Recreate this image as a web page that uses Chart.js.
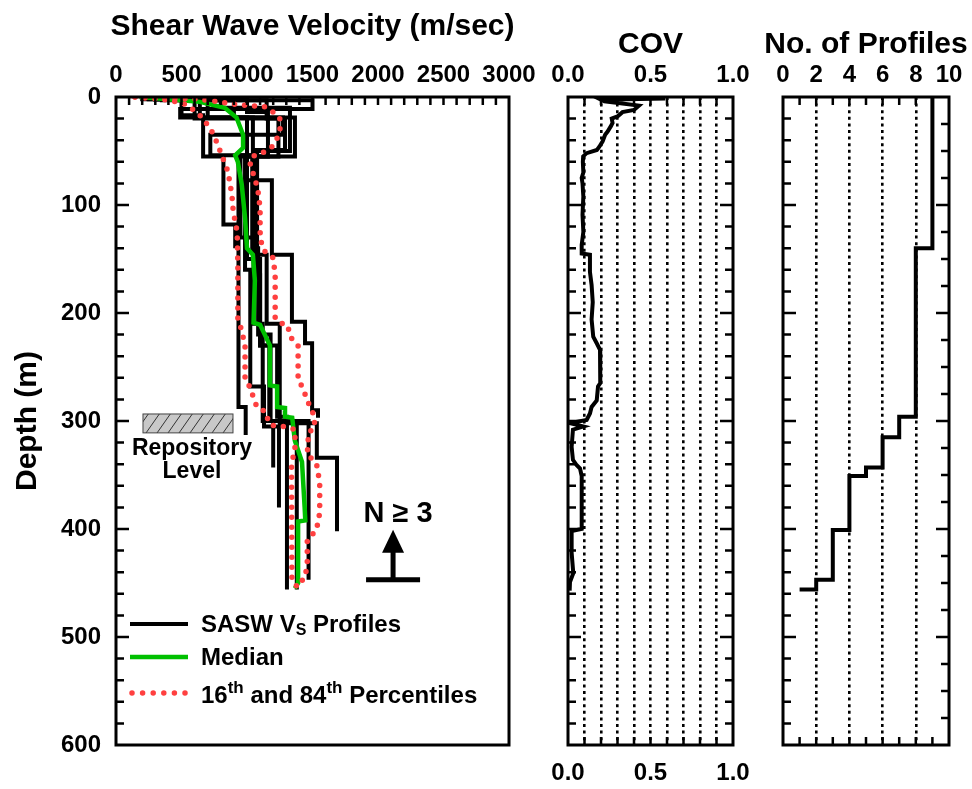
<!DOCTYPE html>
<html>
<head>
<meta charset="utf-8">
<title>Shear Wave Velocity Profiles</title>
<script src="https://cdn.jsdelivr.net/npm/chart.js@4.4.1/dist/chart.umd.min.js"></script>
<style>
  html, body { margin: 0; padding: 0; background: #fff; }
  #wrap { position: relative; width: 972px; height: 789px; }
  #wrap canvas { position: absolute; left: 0; top: 0; }
</style>
</head>
<body>
<div id="wrap">
  <canvas id="vsChart" width="972" height="789"></canvas>
  <canvas id="covChart" width="972" height="789"></canvas>
  <canvas id="countChart" width="972" height="789"></canvas>
</div>
<script>
// SASW profiles: layer boundaries (m) and layer velocity (m/sec)
const prof1Depth = [0, 2, 17, 55, 118, 140];
const prof1Vs    = [250, 500, 665, 820, 910];
const prof2Depth = [0, 3, 11, 19, 55, 77, 146, 208, 228, 290, 297];
const prof2Vs    = [450, 1500, 490, 1366, 1000, 1190, 1343, 1443, 1497, 1542];
const prof3Depth = [0, 2, 19, 54, 287, 313];
const prof3Vs    = [200, 700, 1045, 935, 990];
const prof4Depth = [0, 2, 10, 50, 165, 230, 300, 343];
const prof4Vs    = [300, 800, 1328, 1077, 1100, 1170, 1200];
const prof5Depth = [0, 3, 19, 35, 54, 160, 268, 305, 380];
const prof5Vs    = [350, 900, 1275, 720, 985, 1025, 1130, 1244];
const prof6Depth = [0, 2, 20, 49, 146, 210, 302, 334, 402];
const prof6Vs    = [400, 600, 1290, 1060, 1150, 1250, 1533, 1687];
const prof7Depth = [0, 2, 19, 54, 140, 220, 300, 447];
const prof7Vs    = [300, 640, 1000, 1040, 1085, 1180, 1470];
const prof8Depth = [0, 3, 20, 55, 150, 230, 296, 456];
const prof8Vs    = [500, 1150, 1240, 1000, 1100, 1230, 1305];
const prof9Depth = [0, 2, 14, 55, 130, 210, 300, 456];
const prof9Vs    = [300, 1000, 1160, 950, 1050, 1120, 1380];

// median and 16th / 84th percentile curves
const medianVs    = [180, 400, 640, 830, 920, 970, 970, 910, 930, 960, 985, 1000, 1045, 1060, 1050, 1100, 1175, 1175, 1230, 1230, 1290, 1290, 1345, 1365, 1390, 1420, 1440, 1445, 1390, 1390, 1365];
const medianDepth = [0, 2, 4.5, 10, 19, 35, 47, 54, 60, 81, 112, 140, 146, 170, 209, 211, 230, 267, 268, 287, 288, 296, 297, 318, 327, 338, 380, 392, 393, 450, 455];
const p16Vs    = [145, 410, 540, 640, 720, 770, 810, 855, 885, 895, 925, 930, 930, 960, 985, 985, 1020, 1075, 1150, 1160, 1190, 1275, 1366, 1366, 1340, 1343, 1380];
const p16Depth = [0, 3, 7, 17, 29, 42, 55, 69, 91, 106, 125, 156, 206, 216, 231, 262, 268, 287, 292, 300, 304, 305, 308, 327, 339, 447, 453];
const p84Vs    = [145, 400, 640, 925, 1140, 1200, 1250, 1252, 1230, 1190, 1115, 1040, 1023, 1060, 1085, 1100, 1100, 1115, 1160, 1200, 1215, 1215, 1250, 1310, 1330, 1390, 1390, 1425, 1460, 1505, 1520, 1470, 1460, 1530, 1555, 1555, 1530, 1460, 1460, 1445, 1405];
const p84Depth = [0, 1, 2, 7, 9, 14, 19, 30, 38, 46, 52, 55, 63, 75, 88, 103, 125, 140, 146, 149, 165, 205, 209, 211, 222, 230, 262, 269, 281, 293, 305, 311, 331, 339, 357, 385, 401, 410, 431, 444, 450];

// coefficient of variation with depth
const covValue = [0.59, 0.20, 0.22, 0.43, 0.40, 0.33, 0.30, 0.265, 0.27, 0.26, 0.24, 0.225, 0.21, 0.19, 0.175, 0.113, 0.092, 0.09, 0.093, 0.083, 0.088, 0.093, 0.088, 0.093, 0.083, 0.083, 0.133, 0.133, 0.143, 0.15, 0.143, 0.153, 0.174, 0.194, 0.197, 0.194, 0.182, 0.174, 0.143, 0.133, 0.113, 0.012, 0.093, 0.03, 0.022, 0.03, 0.053, 0.073, 0.083, 0.083, 0.022, 0.022, 0.032, 0.012, 0.01];
const covDepth = [1.5, 2.5, 4, 8, 12, 14, 18, 20, 24, 27, 32, 35, 41, 46, 49, 52, 55, 60, 70, 75, 80, 92, 109, 125, 137, 145, 146, 162, 174, 190, 206, 222, 228, 234, 246, 265, 268, 281, 287, 293, 299, 302, 305, 308, 324, 336, 341, 344, 351, 400, 402, 422, 441, 449, 457];

// number of profiles reaching each depth
const countDepth = [0, 140, 296, 315, 343, 351, 401, 447, 456];
const countValue = [9, 8, 7, 6, 5, 4, 3, 2, 1];

// axis tick labels
const vsTicks = [0, 500, 1000, 1500, 2000, 2500, 3000];
const depthTicks = [0, 100, 200, 300, 400, 500, 600];

const FONT = "'Liberation Sans', Arial, Helvetica, sans-serif";
Chart.defaults.font.family = FONT;
Chart.defaults.font.weight = 'bold';
Chart.defaults.color = '#000';

function stepLine(depths, values) {
    const pts = [];
    for (let i = 0; i < values.length; i++) {
        pts.push({ x: values[i], y: depths[i] });
        pts.push({ x: values[i], y: depths[i + 1] });
    }
    return pts;
}

function countLine(depths, values) {
    const pts = [];
    for (let i = 0; i < values.length - 1; i++) {
        pts.push({ x: values[i], y: depths[i] });
        pts.push({ x: values[i], y: depths[i + 1] });
    }
    pts.push({ x: values[values.length - 1], y: depths[depths.length - 1] });
    return pts;
}

function curve(values, depths) {
    return values.map((v, i) => ({ x: v, y: depths[i] }));
}

function fixHeight(h) { return scale => { scale.height = h; }; }
function fixWidth(w) { return scale => { scale.width = w; }; }

// panel heading drawn centred over the plot area (axis titles get squeezed to the axis width)
function drawHeading(chart, text, cy) {
    const { ctx, chartArea: a } = chart;
    ctx.save();
    ctx.fillStyle = '#000';
    ctx.font = `bold 30px ${FONT}`;
    ctx.textAlign = 'center';
    ctx.textBaseline = 'middle';
    ctx.fillText(text, (a.left + a.right) / 2, cy);
    ctx.restore();
}

// frame plus inward tick marks
function drawFrame(chart, spec) {
    const { ctx, chartArea: a } = chart;
    const xs = chart.scales.x, ys = chart.scales.y;
    ctx.save();
    ctx.strokeStyle = '#000';
    ctx.lineWidth = 2.5;
    ctx.beginPath();
    const sideTicks = (step, side) => {
        for (let d = step; d < 600; d += step) {
            const py = ys.getPixelForValue(d);
            const len = d % 100 === 0 ? 13 : 8;
            if (side === 'left') { ctx.moveTo(a.left, py); ctx.lineTo(a.left + len, py); }
            else { ctx.moveTo(a.right, py); ctx.lineTo(a.right - len, py); }
        }
    };
    const edgeTicks = (step, edge) => {
        for (let i = 1; i * step < xs.max - 1e-9; i++) {
            const px = xs.getPixelForValue(i * step);
            if (edge === 'top') { ctx.moveTo(px, a.top); ctx.lineTo(px, a.top + 8); }
            else { ctx.moveTo(px, a.bottom); ctx.lineTo(px, a.bottom - 8); }
        }
    };
    if (spec.left) sideTicks(spec.left, 'left');
    if (spec.right) sideTicks(spec.right, 'right');
    if (spec.top) edgeTicks(spec.top, 'top');
    if (spec.bottom) edgeTicks(spec.bottom, 'bottom');
    ctx.stroke();
    ctx.lineWidth = 3;
    ctx.strokeRect(a.left, a.top, a.width, a.height);
    ctx.restore();
}

function drawRuns(ctx, x, baseline, runs) {
    runs.forEach(r => {
        ctx.font = `bold ${r.size}px ${FONT}`;
        ctx.fillText(r.text, x, baseline + (r.shift || 0));
        x += ctx.measureText(r.text).width;
    });
}

const velocityExtras = {
    id: 'velocityExtras',
    afterDatasetsDraw(chart) {
        const { ctx, chartArea: a } = chart;
        const xs = chart.scales.x, ys = chart.scales.y;
        drawFrame(chart, { left: 20, top: 100 });
        drawHeading(chart, 'Shear Wave Velocity (m/sec)', 27);

        ctx.save();
        // repository level block
        const rx0 = xs.getPixelForValue(206), rx1 = xs.getPixelForValue(893);
        const ry0 = ys.getPixelForValue(293.5), ry1 = ys.getPixelForValue(311);
        ctx.fillStyle = '#c8c8c8';
        ctx.fillRect(rx0, ry0, rx1 - rx0, ry1 - ry0);
        ctx.save();
        ctx.beginPath();
        ctx.rect(rx0, ry0, rx1 - rx0, ry1 - ry0);
        ctx.clip();
        ctx.strokeStyle = '#333';
        ctx.lineWidth = 1;
        ctx.beginPath();
        const h = ry1 - ry0;
        for (let x = rx0 - h; x < rx1 + h; x += 11) {
            ctx.moveTo(x, ry1);
            ctx.lineTo(x + h * 0.7, ry0);
        }
        ctx.stroke();
        ctx.restore();
        ctx.strokeStyle = '#444';
        ctx.lineWidth = 1;
        ctx.strokeRect(rx0, ry0, rx1 - rx0, ry1 - ry0);

        ctx.fillStyle = '#000';
        ctx.textAlign = 'center';
        ctx.textBaseline = 'alphabetic';
        ctx.font = `bold 23px ${FONT}`;
        const labelX = xs.getPixelForValue(580);
        ctx.fillText('Repository', labelX, ry1 + 22);
        ctx.fillText('Level', labelX, ry1 + 45);

        // N >= 3 marker
        const barY = ys.getPixelForValue(447);
        const ax = xs.getPixelForValue(2115);
        ctx.font = `bold 29px ${FONT}`;
        ctx.fillText('N \u2265 3', ax + 5, barY - 58);
        ctx.lineWidth = 5;
        ctx.strokeStyle = '#000';
        ctx.beginPath();
        ctx.moveTo(ax - 27, barY); ctx.lineTo(ax + 27, barY);
        ctx.moveTo(ax, barY); ctx.lineTo(ax, barY - 30);
        ctx.stroke();
        ctx.beginPath();
        ctx.moveTo(ax, barY - 50);
        ctx.lineTo(ax - 11, barY - 27);
        ctx.lineTo(ax + 11, barY - 27);
        ctx.closePath();
        ctx.fill();

        // legend
        const lx0 = a.left + 14, lx1 = a.left + 72, tx = a.left + 85;
        ctx.textAlign = 'left';
        ctx.lineWidth = 4;
        ctx.strokeStyle = '#000';
        ctx.beginPath();
        ctx.moveTo(lx0, a.top + 527); ctx.lineTo(lx1, a.top + 527);
        ctx.stroke();
        drawRuns(ctx, tx, a.top + 535, [
            { text: 'SASW V', size: 24 },
            { text: 'S', size: 16, shift: 3 },
            { text: ' Profiles', size: 24 }
        ]);
        ctx.lineWidth = 4.5;
        ctx.strokeStyle = '#00c000';
        ctx.beginPath();
        ctx.moveTo(lx0, a.top + 560); ctx.lineTo(lx1, a.top + 560);
        ctx.stroke();
        drawRuns(ctx, tx, a.top + 568, [{ text: 'Median', size: 24 }]);
        ctx.lineWidth = 5.5;
        ctx.lineCap = 'round';
        ctx.strokeStyle = '#ff4040';
        ctx.setLineDash([0, 10.6]);
        ctx.beginPath();
        ctx.moveTo(lx0 + 2, a.top + 596); ctx.lineTo(lx1, a.top + 596);
        ctx.stroke();
        ctx.setLineDash([]);
        drawRuns(ctx, tx, a.top + 606, [
            { text: '16', size: 24 },
            { text: 'th', size: 17, shift: -10 },
            { text: ' and 84', size: 24 },
            { text: 'th', size: 17, shift: -10 },
            { text: ' Percentiles', size: 24 }
        ]);
        ctx.restore();
    }
};

const profileSets = [
    [prof1Depth, prof1Vs], [prof2Depth, prof2Vs], [prof3Depth, prof3Vs],
    [prof4Depth, prof4Vs], [prof5Depth, prof5Vs], [prof6Depth, prof6Vs],
    [prof7Depth, prof7Vs], [prof8Depth, prof8Vs], [prof9Depth, prof9Vs]
];

const lineBase = { showLine: true, pointRadius: 0, pointHoverRadius: 0, fill: false, tension: 0 };
const percentileStyle = {
    ...lineBase, borderColor: '#ff4040', borderWidth: 5.5,
    borderDash: [0, 10], borderCapStyle: 'round', borderJoinStyle: 'round', order: 0
};

const vsDatasets = profileSets.map(([d, v], i) => ({
    ...lineBase, label: 'Profile ' + (i + 1), data: stepLine(d, v),
    borderColor: '#000', borderWidth: 4, order: 2
}));
vsDatasets.push({ ...lineBase, label: 'Median', data: curve(medianVs, medianDepth), borderColor: '#00c000', borderWidth: 4.5, order: 1 });
vsDatasets.push({ ...percentileStyle, label: '16th', data: curve(p16Vs, p16Depth) });
vsDatasets.push({ ...percentileStyle, label: '84th', data: curve(p84Vs, p84Depth) });

const depthAxisHidden = { type: 'linear', display: false, min: 0, max: 600, reverse: true };
const commonOpts = {
    responsive: false,
    animation: false,
    devicePixelRatio: 1,
    plugins: { legend: { display: false }, tooltip: { enabled: false } },
    events: []
};

new Chart(document.getElementById('vsChart'), {
    type: 'scatter',
    data: { datasets: vsDatasets },
    options: {
        ...commonOpts,
        layout: { padding: { left: 0, top: 0, right: 463, bottom: 44 } },
        scales: {
            x: {
                type: 'linear', position: 'top', min: 0, max: 3000,
                afterFit: fixHeight(97),
                grid: { display: false, drawTicks: false },
                border: { display: false },
                afterBuildTicks: s => { s.ticks = vsTicks.map(v => ({ value: v })); },
                ticks: { font: { size: 24, weight: 'bold' }, padding: 7, maxRotation: 0, autoSkip: false, callback: v => String(v) }
            },
            y: {
                type: 'linear', position: 'left', min: 0, max: 600, reverse: true,
                afterFit: fixWidth(116),
                grid: { display: false, drawTicks: false },
                border: { display: false },
                afterBuildTicks: s => { s.ticks = depthTicks.map(v => ({ value: v })); },
                ticks: { font: { size: 24, weight: 'bold' }, padding: 15, autoSkip: false, callback: v => String(v) },
                title: { display: true, text: 'Depth (m)', font: { size: 30, weight: 'bold' }, padding: { top: 10, bottom: 0 } }
            }
        }
    },
    plugins: [velocityExtras]
});

const dottedGrid = { border: { display: false, dash: [3, 3.6] } };

new Chart(document.getElementById('covChart'), {
    type: 'scatter',
    data: {
        datasets: [{ ...lineBase, label: 'COV', data: curve(covValue, covDepth), borderColor: '#000', borderWidth: 4 }]
    },
    options: {
        ...commonOpts,
        layout: { padding: { left: 568, top: 0, right: 239, bottom: 0 } },
        scales: {
            x: {
                type: 'linear', position: 'top', min: 0, max: 1,
                afterFit: fixHeight(97),
                grid: {
                    drawTicks: false, lineWidth: 2.6,
                    color: c => (c.tick && c.tick.value > 0.01 && c.tick.value < 0.99) ? '#000' : 'rgba(0,0,0,0)'
                },
                ...dottedGrid,
                ticks: {
                    stepSize: 0.1, font: { size: 24, weight: 'bold' }, padding: 7, maxRotation: 0, autoSkip: false,
                    callback: v => (Math.round(v * 10) % 5 === 0 ? v.toFixed(1) : '')
                }
            },
            x2: {
                type: 'linear', position: 'bottom', min: 0, max: 1,
                afterFit: fixHeight(44),
                grid: { display: false, drawTicks: false },
                border: { display: false },
                ticks: {
                    stepSize: 0.5, font: { size: 24, weight: 'bold' }, padding: 14, maxRotation: 0, autoSkip: false,
                    callback: v => v.toFixed(1)
                }
            },
            y: depthAxisHidden
        }
    },
    plugins: [{
        id: 'covFrame',
        afterDatasetsDraw: c => {
            drawFrame(c, { left: 20, right: 20, top: 0.1, bottom: 0.1 });
            drawHeading(c, 'COV', 45);
        }
    }]
});

new Chart(document.getElementById('countChart'), {
    type: 'scatter',
    data: {
        datasets: [{ ...lineBase, label: 'No. of Profiles', data: countLine(countDepth, countValue), borderColor: '#000', borderWidth: 4 }]
    },
    options: {
        ...commonOpts,
        layout: { padding: { left: 783, top: 0, right: 23, bottom: 44 } },
        scales: {
            x: {
                type: 'linear', position: 'top', min: 0, max: 10,
                afterFit: fixHeight(97),
                grid: {
                    drawTicks: false, lineWidth: 2.6,
                    color: c => (c.tick && c.tick.value % 2 === 0 && c.tick.value > 0 && c.tick.value < 10) ? '#000' : 'rgba(0,0,0,0)'
                },
                ...dottedGrid,
                ticks: {
                    stepSize: 1, font: { size: 24, weight: 'bold' }, padding: 7, maxRotation: 0, autoSkip: false,
                    callback: v => (v % 2 === 0 ? String(v) : '')
                }
            },
            y: depthAxisHidden
        }
    },
    plugins: [{
        id: 'countFrame',
        afterDatasetsDraw: c => {
            drawFrame(c, { left: 20, right: 25, top: 1, bottom: 1 });
            drawHeading(c, 'No. of Profiles', 45);
        }
    }]
});
</script>
</body>
</html>
